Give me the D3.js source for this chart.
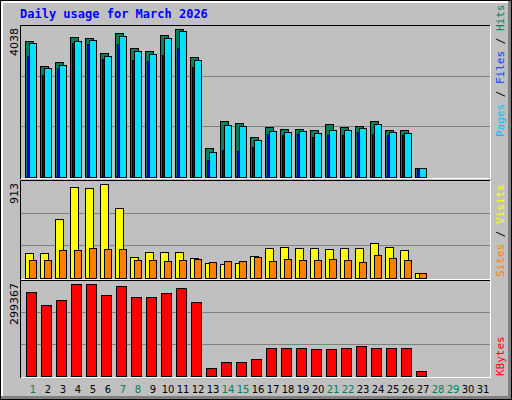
<!DOCTYPE html>
<html><head><meta charset="utf-8">
<script src="https://cdn.jsdelivr.net/npm/d3@7"></script>
<style>body{margin:0;background:#fff}</style>
</head><body>
<svg id="chart" width="512" height="400"></svg>
<script>
const days = d3.range(1, 32);
const weekend = [1, 7, 8, 14, 15, 21, 22, 28, 29];
const hits = [3705,3027,3136,3813,3786,3380,3922,3516,3434,3868,4038,3271,778,1537,1482,1103,1374,1320,1320,1293,1455,1374,1401,1537,1293,1293,236];
const files = [3650,2973,3054,3704,3732,3298,3840,3434,3352,3786,3976,3190,669,1428,1401,1022,1266,1238,1266,1211,1293,1293,1347,1455,1238,1211,236];
const pages = [3298,2783,2973,3650,3623,3217,3623,3190,3163,3325,3515,3000,453,724,696,832,1184,1157,1184,1103,1157,1157,1238,1184,1157,1157,209];
const visits = [238,238,575,883,873,913,684,208,248,248,248,198,149,139,149,218,288,298,288,288,278,288,288,337,298,268,50];
const sites = [179,179,268,268,288,278,278,179,179,169,179,188,159,169,169,208,169,188,179,179,188,179,159,228,198,179,50];
const kbytes = [272160,229530,245930,299367,299367,262300,291800,255760,255760,268900,285300,239370,26230,45900,45900,55740,91810,91810,91810,88530,88530,91810,98370,91810,91810,91810,16400];

const svg = d3.select("#chart");
const W = 512, H = 400;

// window frame
svg.append("rect").attr("x", 0).attr("y", 0).attr("width", W).attr("height", H).attr("fill", "#000");
svg.append("rect").attr("x", 1).attr("y", 1).attr("width", W - 2).attr("height", H - 2).attr("fill", "#808080");
svg.append("rect").attr("x", 1).attr("y", 1).attr("width", W - 5).attr("height", H - 5).attr("fill", "#fff");
svg.append("rect").attr("x", 3).attr("y", 3).attr("width", W - 7).attr("height", H - 7).attr("fill", "#c0c0c0");

svg.append("text").attr("x", 20).attr("y", 18)
  .attr("font-family", "DejaVu Sans Mono").attr("font-weight", "bold").attr("font-size", 12)
  .attr("fill", "#0000ff").text("Daily usage for March 2026");

const x = d3.scaleBand().domain(days).range([25, 490]).paddingInner(0);

function panel(top, bottom, maxVal, maxLabel, valTop) {
  svg.append("rect").attr("x", 20).attr("y", top).attr("width", 471).attr("height", bottom - top)
    .attr("fill", "#c0c0c0");
  const h = bottom - 2 - top;
  [1, 2].forEach(k => {
    const gy = Math.round(bottom - 2 - h * k / 3) + 0.5;
    svg.append("line").attr("x1", 21).attr("x2", 490).attr("y1", gy).attr("y2", gy)
      .attr("stroke", "#808080").attr("stroke-width", 1);
  });
  svg.append("path").attr("d", `M20.5,${bottom}V${top + 0.5}H490`).attr("fill", "none").attr("stroke", "#000");
  svg.append("path").attr("d", `M21,${bottom - 0.5}H490.5V${top}`).attr("fill", "none").attr("stroke", "#fff");
  svg.append("text").attr("transform", `translate(18,${top + 3}) rotate(-90)`)
    .attr("text-anchor", "end").attr("font-family", "DejaVu Sans").attr("font-size", 11)
    .attr("fill", "#000").text(maxLabel);
  return d3.scaleLinear().domain([0, maxVal]).range([bottom - 2, valTop]);
}

function bars(data, y, dx, w, fill) {
  svg.append("g").selectAll("rect").data(data).join("rect")
    .attr("x", (d, i) => x(i + 1) + dx + 0.5).attr("y", d => Math.round(y(d)) + 0.5)
    .attr("width", w).attr("height", d => y(0) - Math.round(y(d)))
    .attr("fill", fill).attr("stroke", "#000").attr("stroke-width", 1);
}

// hits / files / pages
const y1 = panel(25, 179, 4038, "4038", 29);
bars(hits, y1, 0, 8, "#00805c");
bars(pages, y1, 2, 7, "#0000ff");
bars(files, y1, 4, 7, "#00e0ff");

// visits / sites
const y2 = panel(180, 280, 913, "913", 184);
bars(visits, y2, 0, 8, "#ffff00");
bars(sites, y2, 4, 7, "#ff8000");

// kbytes
const y3 = panel(280, 378, 299367, "299367", 284);
bars(kbytes, y3, 1, 10, "#ff0000");

// day labels
svg.append("g").selectAll("text").data(days).join("text")
  .attr("x", d => x(d) + 8).attr("y", 393).attr("text-anchor", "middle")
  .attr("font-family", "DejaVu Sans").attr("font-size", 10)
  .attr("fill", d => weekend.includes(d) ? "#00805c" : "#000").text(d => d);

// right side legends
function legend(parts, yBottom) {
  const t = svg.append("text").attr("transform", `translate(504,${yBottom}) rotate(-90)`)
    .attr("font-family", "DejaVu Sans Mono").attr("font-size", 11);
  parts.forEach(([s, c]) => t.append("tspan").attr("fill", c).text(s));
}
legend([["Pages", "#00c0ff"], [" / ", "#000"], ["Files", "#0040ff"], [" / ", "#000"], ["Hits", "#00805c"]], 137);
legend([["Sites", "#ff8000"], [" / ", "#000"], ["Visits", "#ffff00"]], 277);
legend([["KBytes", "#ff0000"]], 376);
</script>
</body></html>
